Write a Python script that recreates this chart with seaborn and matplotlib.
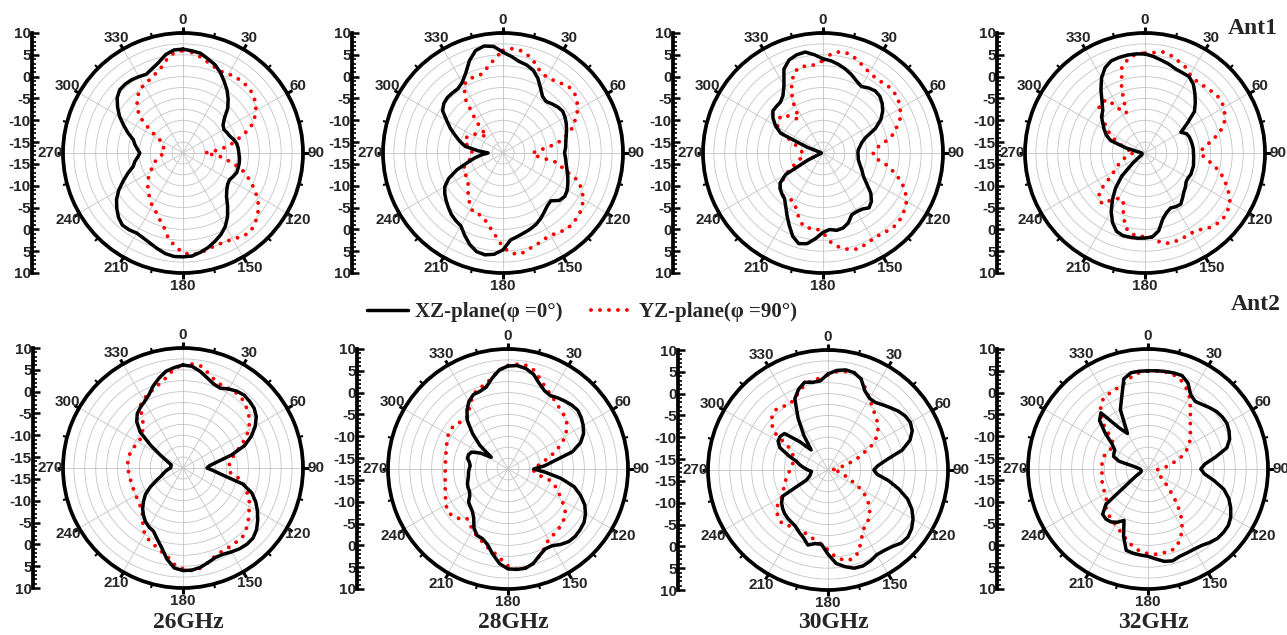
import numpy as np
import matplotlib
matplotlib.use("Agg")
import matplotlib.pyplot as plt
import seaborn as sns
from matplotlib.lines import Line2D
from matplotlib.font_manager import FontProperties

# ---------------------------------------------------------------------------
# Measured radiation patterns (gain in dB), sampled every 5 degrees
# ---------------------------------------------------------------------------
angles_deg = np.arange(0, 360, 5)
freq_labels = ["26GHz", "28GHz", "30GHz", "32GHz"]
antenna_labels = ["Ant1", "Ant2"]
angle_ticks = list(range(0, 360, 30))
radial_levels = [10, 5, 0, -5, -10, -15]
series_labels = ["XZ-plane(\u03c6 =0\u00b0)", "YZ-plane(\u03c6 =90\u00b0)"]

ant1_26_xz = [6.3, 6.0, 5.7, 4.8, 4.0, 2.8, 1.4, 0.1, -1.4, -3.0, -5.1, -6.3,
              -6.7, -6.4, -6.1, -5.5, -5.0, -4.8, -4.7, -4.5, -4.4, -4.4, -4.4, -4.8,
              -5.2, -5.0, -4.4, -3.4, -1.6, 0.3, 1.9, 3.1, 4.0, 4.9, 5.6, 6.2,
              6.3, 6.3, 5.9, 5.2, 4.5, 4.0, 3.7, 4.0, 4.1, 3.4, 2.3, 1.1,
              -0.5, -2.4, -4.1, -5.7, -6.3, -7.1, -7.6, -7.0, -6.3, -5.7, -4.1, -2.5,
              -0.7, 0.8, 2.2, 3.0, 3.1, 3.0, 2.7, 2.4, 3.1, 4.0, 5.4, 6.2]
ant1_26_yz = [6.0, 5.6, 4.9, 4.1, 3.5, 3.1, 3.4, 3.7, 3.7, 3.8, 3.4, 2.8,
              1.8, 0.5, -1.2, -4.1, -6.4, -9.1, -12.5, -9.1, -6.8, -3.7, -1.8, 0.1,
              2.0, 3.7, 4.8, 5.7, 6.3, 5.9, 5.3, 5.0, 5.0, 5.2, 5.7, 5.9,
              5.4, 3.9, 2.2, -0.2, -1.5, -2.7, -3.4, -4.4, -5.3, -6.1, -7.0, -7.9,
              -8.9, -9.7, -10.4, -11.1, -11.8, -12.6, -13.3, -13.2, -13.1, -12.9, -12.8, -12.5,
              -11.2, -8.2, -4.5, -2.6, -1.2, 0.0, 0.5, 0.9, 1.6, 2.5, 4.2, 5.6]

ant1_28_xz = [5.6, 4.7, 3.8, 3.4, 2.7, 1.4, -0.3, -1.7, -2.1, -1.6, -1.1, -0.8,
              -1.1, -1.5, -2.0, -2.5, -2.9, -3.1, -3.4, -3.1, -2.8, -2.3, -1.7, -1.1,
              -0.5, -0.2, -0.6, -2.0, -1.7, -1.0, -0.2, 0.5, 1.0, 1.4, 1.9, 2.5,
              4.7, 5.8, 6.2, 5.9, 4.8, 3.3, 1.8, 1.4, 0.9, 0.2, -0.5, -1.2,
              -2.1, -3.8, -6.3, -9.1, -10.9, -12.5, -14.1, -11.8, -8.7, -7.3, -5.9, -4.2,
              -2.6, -0.6, 0.2, 0.5, 0.5, 0.5, 1.2, 2.7, 5.0, 6.8, 7.4, 7.0]
ant1_28_yz = [6.0, 6.5, 6.3, 5.5, 4.3, 2.9, 2.6, 2.8, 3.3, 3.9, 3.9, 3.2,
              2.3, 0.8, -0.5, -2.7, -4.9, -8.7, -10.8, -9.9, -4.9, -3.0, 0.7, 2.5,
              3.7, 4.6, 5.0, 5.2, 5.3, 4.7, 4.3, 4.4, 4.9, 5.3, 6.0, 5.6,
              4.1, 1.6, -0.2, -1.6, -2.4, -2.2, -2.8, -4.0, -5.1, -6.1, -7.1, -7.4,
              -7.6, -7.6, -8.0, -9.1, -9.9, -10.4, -10.6, -10.0, -9.4, -8.7, -8.1, -8.6,
              -9.1, -9.9, -11.2, -12.2, -7.9, -2.6, 0.5, 1.1, 1.2, 1.2, 2.5, 4.2]

ant1_30_xz = [4.1, 3.7, 3.1, 2.4, 1.6, 0.7, 0.1, 0.7, 1.1, 0.9, 0.2, -0.8,
              -2.2, -4.3, -7.1, -8.3, -8.9, -9.4, -9.5, -9.4, -9.3, -8.9, -8.3, -7.6,
              -6.8, -5.3, -3.2, -1.8, -1.1, -1.8, -2.0, -1.9, -0.5, 0.3, 0.5, 0.1,
              0.7, 2.2, 3.6, 4.0, 2.8, 0.8, -1.0, -2.6, -3.8, -4.2, -4.7, -5.5,
              -7.6, -13.7, -16.4, -16.9, -17.0, -17.1, -17.1, -17.1, -17.0, -16.7, -13.7, -6.8,
              -4.9, -3.5, -2.5, -2.4, -2.3, -1.5, 0.4, 3.7, 5.2, 5.8, 6.0, 5.1]
ant1_30_yz = [3.7, 5.4, 6.1, 6.0, 5.3, 4.4, 3.8, 3.5, 3.6, 3.9, 3.9, 3.6,
              2.9, 2.2, 0.6, -0.8, -3.1, -5.3, -6.0, -5.7, -3.0, -0.7, 1.6, 3.3,
              4.6, 5.3, 5.8, 6.0, 5.7, 5.3, 5.3, 5.6, 5.9, 5.4, 4.5, 3.0,
              0.8, -0.1, 0.0, -0.1, -1.5, -3.1, -4.4, -4.5, -4.1, -4.1, -4.6, -6.0,
              -7.6, -9.6, -11.1, -12.0, -12.8, -12.8, -12.9, -12.5, -11.8, -11.2, -10.2, -7.2,
              -5.5, -4.8, -4.7, -5.1, -7.2, -7.9, -3.4, -0.5, 2.1, 2.9, 2.8, 2.8]

ant1_32_xz = [5.2, 4.7, 4.1, 3.6, 3.0, 2.8, 2.7, 1.8, 0.3, -1.2, -2.7, -5.7,
              -8.0, -7.0, -6.7, -6.6, -6.5, -6.4, -6.4, -6.3, -6.2, -6.0, -6.0, -5.9,
              -6.1, -6.0, -5.4, -4.9, -4.1, -3.2, -3.3, -3.6, -3.0, -1.8, 0.6, 1.8,
              2.0, 2.1, 2.1, 2.1, 1.6, 0.1, -2.0, -4.5, -7.0, -9.9, -13.7, -15.8,
              -16.6, -16.7, -16.8, -16.8, -16.8, -16.8, -16.7, -16.4, -15.8, -12.9, -9.1, -7.7,
              -6.7, -5.7, -4.5, -3.8, -2.2, 0.1, 2.4, 4.1, 5.0, 5.2, 5.3, 5.3]
ant1_32_yz = [5.4, 5.6, 6.0, 5.6, 4.9, 4.3, 3.2, 2.8, 2.9, 3.1, 3.6, 3.7,
              3.4, 2.7, 1.8, 0.1, -2.1, -4.1, -4.9, -3.6, -1.5, 0.5, 2.1, 3.6,
              5.0, 5.6, 5.9, 5.6, 5.0, 4.0, 3.7, 3.8, 3.9, 3.9, 3.4, 1.9,
              1.6, 1.7, 1.2, 0.1, -3.0, -5.7, -5.5, -4.5, -2.3, -2.5, -3.9, -7.7,
              -9.5, -10.6, -11.5, -12.5, -13.3, -14.0, -14.8, -15.1, -13.7, -12.6, -11.2, -9.5,
              -7.9, -6.4, -4.9, -2.6, -2.2, -2.6, -6.0, -7.4, -1.8, 3.0, 4.4, 5.3]

ant2_26_xz = [6.1, 5.9, 5.0, 3.9, 3.0, 2.7, 3.4, 4.0, 4.3, 4.1, 3.8, 3.0,
              1.6, -0.2, -2.5, -6.0, -9.6, -11.4, -12.0, -10.5, -8.3, -3.3, -0.7, 0.9,
              2.2, 3.4, 4.5, 5.2, 5.3, 5.1, 4.7, 4.3, 4.3, 4.9, 5.6, 6.0,
              6.0, 5.5, 3.7, 1.4, -0.2, -1.5, -1.9, -2.5, -3.4, -4.4, -5.7, -7.0,
              -8.9, -10.8, -12.2, -12.9, -13.5, -14.1, -14.6, -14.7, -14.7, -14.7, -14.1, -13.1,
              -11.4, -8.5, -4.7, -2.5, -1.2, -0.5, 0.1, 1.0, 2.5, 3.8, 5.0, 5.6]
ant2_26_yz = [6.1, 6.4, 6.2, 5.0, 3.9, 3.4, 3.5, 3.6, 3.4, 2.8, 2.1, 1.1,
              -0.1, -1.8, -3.7, -5.3, -6.2, -6.8, -7.0, -6.8, -4.7, -3.1, -2.0, -0.8,
              0.1, 0.9, 2.0, 2.8, 3.5, 3.4, 3.5, 3.6, 4.0, 4.9, 5.8, 6.1,
              5.6, 4.7, 3.1, 2.2, 1.4, 0.8, 0.1, -1.5, -3.1, -4.1, -4.5, -4.8,
              -5.0, -5.1, -5.2, -5.2, -5.1, -5.0, -4.9, -4.8, -4.7, -4.9, -5.1, -5.4,
              -5.6, -5.7, -5.3, -4.5, -3.2, -0.3, 0.7, 1.2, 1.9, 2.6, 3.7, 5.4]

ant2_28_xz = [6.1, 6.3, 5.9, 5.0, 3.4, 2.3, 1.9, 2.4, 2.8, 3.2, 3.4, 3.0,
              2.4, 1.6, 0.2, -2.2, -6.7, -9.1, -11.6, -8.9, -5.2, -1.8, 0.2, 1.9,
              3.0, 3.8, 4.1, 4.3, 4.2, 3.6, 2.8, 2.7, 3.6, 4.9, 5.6, 5.6,
              5.4, 4.3, 2.4, 0.5, -0.5, -0.7, -1.9, -3.8, -4.8, -5.3, -5.7, -6.8,
              -7.3, -7.4, -7.6, -8.0, -8.3, -8.4, -8.6, -8.8, -8.5, -7.9, -7.9, -8.3,
              -10.2, -12.8, -9.1, -6.0, -3.0, -1.1, 0.4, 1.3, 1.4, 1.9, 3.6, 5.3]
ant2_28_yz = [6.2, 6.6, 6.6, 5.9, 4.3, 3.0, 2.1, 1.4, 0.8, 0.4, 0.0, -1.0,
              -2.3, -4.0, -6.0, -8.0, -9.9, -10.8, -11.8, -11.5, -10.8, -7.7, -6.0, -4.7,
              -3.3, -1.5, -0.4, 0.0, 0.5, 0.8, 1.1, 2.4, 3.7, 4.9, 5.5, 5.6,
              4.7, 3.1, 1.8, 1.0, 0.1, -0.6, -1.3, -2.2, -2.8, -1.5, -0.8, -0.6,
              -1.1, -1.7, -2.2, -2.6, -2.9, -3.1, -3.1, -3.1, -3.0, -2.8, -2.5, -2.1,
              -1.7, -1.5, -1.7, -2.2, -2.5, -1.8, -0.2, 1.3, 2.2, 2.5, 3.8, 5.3]

ant2_30_xz = [4.5, 5.4, 5.8, 5.6, 4.7, 2.5, 1.5, 1.4, 2.0, 2.7, 3.5, 4.1,
              4.3, 3.8, 2.5, 0.1, -3.8, -6.0, -7.0, -6.2, -3.4, -0.7, 1.9, 3.7,
              5.0, 5.9, 6.4, 6.2, 5.4, 5.0, 4.9, 5.5, 5.9, 5.8, 5.0, 4.0,
              1.8, -0.4, -0.4, 0.3, -1.0, -1.8, -2.6, -2.9, -3.1, -3.4, -3.9, -4.5,
              -5.5, -12.0, -12.9, -13.3, -13.5, -13.7, -12.9, -12.0, -11.0, -10.1, -7.9, -5.3,
              -4.3, -4.1, -4.5, -8.3, -11.5, -7.9, -3.8, 0.5, 2.2, 3.3, 2.9, 3.0]
ant2_30_yz = [4.3, 5.1, 5.4, 5.6, 4.7, 3.0, 1.4, 0.2, -0.8, -1.6, -2.5, -3.8,
              -5.4, -8.7, -10.8, -13.8, -15.1, -16.1, -16.7, -15.6, -14.8, -13.8, -13.1, -11.4,
              -8.9, -6.8, -5.3, -4.0, -2.9, -2.3, -1.5, 0.5, 2.7, 3.7, 3.5, 2.5,
              0.8, -0.4, -1.1, -1.7, -2.1, -2.1, -2.2, -1.9, -1.3, -1.6, -2.2, -3.4,
              -5.3, -6.2, -6.8, -7.3, -8.0, -8.4, -8.8, -9.1, -9.3, -9.2, -9.1, -8.5,
              -7.2, -2.5, -0.5, 0.5, 0.8, 0.3, 0.0, 0.5, 1.8, 2.7, 3.4, 3.6]

ant2_32_xz = [5.0, 5.1, 5.2, 5.3, 5.3, 4.2, 2.1, 1.4, 1.8, 2.4, 3.0, 3.3,
              3.4, 3.0, 2.4, 1.2, -1.8, -4.4, -5.4, -4.5, -2.1, 0.5, 2.2, 3.4,
              4.4, 5.0, 5.1, 5.0, 4.5, 3.9, 3.7, 3.7, 3.8, 4.3, 4.0, 3.2,
              2.5, 2.3, 2.1, 1.8, -1.1, -4.5, -3.4, -2.7, -2.5, -2.8, -4.9, -12.5,
              -14.4, -15.6, -15.8, -15.9, -15.9, -15.8, -15.7, -15.2, -14.3, -10.6, -9.1, -8.9,
              -8.7, -7.4, -4.7, -1.8, -0.7, -6.0, -8.1, -2.5, 0.1, 3.9, 4.9, 5.0]
ant2_32_yz = [5.0, 5.0, 5.1, 4.9, 4.3, 3.1, 1.5, -0.5, -2.4, -3.8, -4.8, -5.7,
              -6.7, -7.9, -9.4, -11.2, -12.5, -13.7, -14.7, -15.4, -15.2, -15.1, -14.8, -14.5,
              -14.3, -13.3, -12.1, -10.2, -7.1, -4.3, -1.8, 0.1, 1.5, 2.1, 2.0, 2.1,
              1.9, 1.5, 0.8, -0.2, -1.2, -2.0, -2.7, -3.1, -3.6, -4.1, -4.7, -5.9,
              -6.2, -6.3, -6.4, -6.6, -6.7, -6.9, -6.9, -6.9, -6.9, -6.9, -7.2, -7.6,
              -7.9, -7.9, -6.4, -3.1, -0.5, 1.2, 1.9, 2.0, 2.4, 3.0, 4.0, 4.7]

patterns = [
    (ant1_26_xz, ant1_26_yz), (ant1_28_xz, ant1_28_yz),
    (ant1_30_xz, ant1_30_yz), (ant1_32_xz, ant1_32_yz),
    (ant2_26_xz, ant2_26_yz), (ant2_28_xz, ant2_28_yz),
    (ant2_30_xz, ant2_30_yz), (ant2_32_xz, ant2_32_yz),
]

# ---------------------------------------------------------------------------
# Figure layout (pixel geometry of the 2 x 4 grid of polar panels)
# ---------------------------------------------------------------------------
W, H = 1287, 635
R_PX = 120
R_MIN, R_MAX = -17.5, 10.0
LABEL_PX = 133                       # distance of angle labels from the centre
r_label = R_MIN + LABEL_PX / R_PX * (R_MAX - R_MIN)
centers = [(183, 153), (503, 153), (823, 153), (1145, 153),
           (183, 468), (508, 469), (828, 470), (1148, 469)]
bar_x = [32, 352, 673, 997, 33, 357, 678, 997]

sns.set_theme(style="white")
plt.rcParams["font.family"] = ["Liberation Sans", "DejaVu Sans"]
plt.rcParams["axes.unicode_minus"] = False

serif_bold = dict(family=["Liberation Serif", "DejaVu Serif"], weight="bold")

fig = plt.figure(figsize=(W / 100, H / 100), dpi=100)
fig.patch.set_facecolor("white")

dot_style = (0, (0.01, 2.3))

for (xz, yz), (cx, cy), bx in zip(patterns, centers, bar_x):
    rect = [(cx - R_PX) / W, (H - cy - R_PX) / H, 2 * R_PX / W, 2 * R_PX / H]
    ax = fig.add_axes(rect, projection="polar")
    ax.set_facecolor("white")
    ax.set_theta_zero_location("N")
    ax.set_theta_direction(-1)

    theta = np.deg2rad(np.append(angles_deg, 360))
    r_xz = np.append(xz, xz[0])
    r_yz = np.append(yz, yz[0])

    sns.lineplot(x=theta, y=r_yz, ax=ax, color="red", linewidth=2.8,
                 linestyle=dot_style, dash_capstyle="round",
                 sort=False, estimator=None, zorder=3)
    sns.lineplot(x=theta, y=r_xz, ax=ax, color="black", linewidth=2.5,
                 sort=False, estimator=None, zorder=4)

    ax.set_ylim(R_MIN, R_MAX)
    ax.set_yticks(np.arange(-15, 10, 2.5))
    ax.set_yticklabels([])
    ax.set_xticks(np.deg2rad(angle_ticks))
    ax.set_xticklabels([])
    ax.set_xticks(np.deg2rad(np.arange(15, 360, 30)), minor=True)
    ax.grid(True, which="major", color="#c4c4c4", linewidth=0.6)
    ax.spines["polar"].set_linewidth(2.7)
    ax.spines["polar"].set_color("black")
    ax.tick_params(axis="x", which="both", bottom=False, top=True,
                   labelbottom=False, labeltop=False)
    ax.tick_params(axis="x", which="major", direction="out",
                   length=4, width=2.2, color="black")
    ax.tick_params(axis="x", which="minor", direction="out",
                   length=3, width=1.5, color="black")
    ax.set_xlabel("")
    ax.set_ylabel("")
    # angle labels centred on a ring just outside the outer circle
    for a in angle_ticks:
        ax.text(np.deg2rad(a), r_label, str(a), ha="center", va="center",
                fontsize=11, fontweight="bold", clip_on=False)

    # vertical dB scale to the left of each polar panel
    bar = fig.add_axes([bx / W, (H - cy - R_PX) / H, 0.0005, 2 * R_PX / H])
    bar.set_ylim(-(R_MAX - R_MIN), R_MAX - R_MIN)
    for side in ("top", "right", "bottom"):
        bar.spines[side].set_visible(False)
    bar.spines["left"].set_linewidth(2.7)
    bar.spines["left"].set_color("black")
    bar.set_xticks([])
    major_pos = [lv - R_MIN for lv in radial_levels] + \
                [-(lv - R_MIN) for lv in radial_levels]
    major_lab = [str(lv) for lv in radial_levels] * 2
    bar.set_yticks(major_pos)
    bar.set_yticklabels(major_lab, fontsize=11, fontweight="bold")
    minor_levels = np.arange(-17, 11, 1)
    bar.set_yticks(list(minor_levels - R_MIN) + list(-(minor_levels - R_MIN)),
                   minor=True)
    bar.tick_params(axis="y", which="major", left=True, direction="in",
                    length=5, width=1.8, color="black", pad=1)
    bar.tick_params(axis="y", which="minor", left=True, direction="in",
                    length=3, width=1.2, color="black")
    bar.patch.set_alpha(0)

# legend between the two rows
handles = [Line2D([], [], color="black", linewidth=2.5),
           Line2D([], [], color="red", linewidth=2.8, linestyle=dot_style,
                  dash_capstyle="round")]
fig.legend(handles, series_labels, loc="center",
           bbox_to_anchor=(582 / W, 1 - 312 / H), ncol=2, frameon=False,
           prop=FontProperties(family=["Liberation Serif", "DejaVu Serif"],
                               weight="bold", size=15),
           handlelength=2.0, handletextpad=0.3, columnspacing=1.4)

# antenna tags
fig.text(1253 / W, 1 - 28 / H, antenna_labels[0], ha="center", va="center",
         fontsize=17, **serif_bold)
fig.text(1256 / W, 1 - 305 / H, antenna_labels[1], ha="center", va="center",
         fontsize=17, **serif_bold)

# frequency captions under the bottom row
for (cx, cy), label in zip(centers[4:], freq_labels):
    fig.text((cx + 5) / W, 1 - 623 / H, label, ha="center", va="center",
             fontsize=17, **serif_bold)

fig.savefig("out.png", dpi=100, facecolor="white")
